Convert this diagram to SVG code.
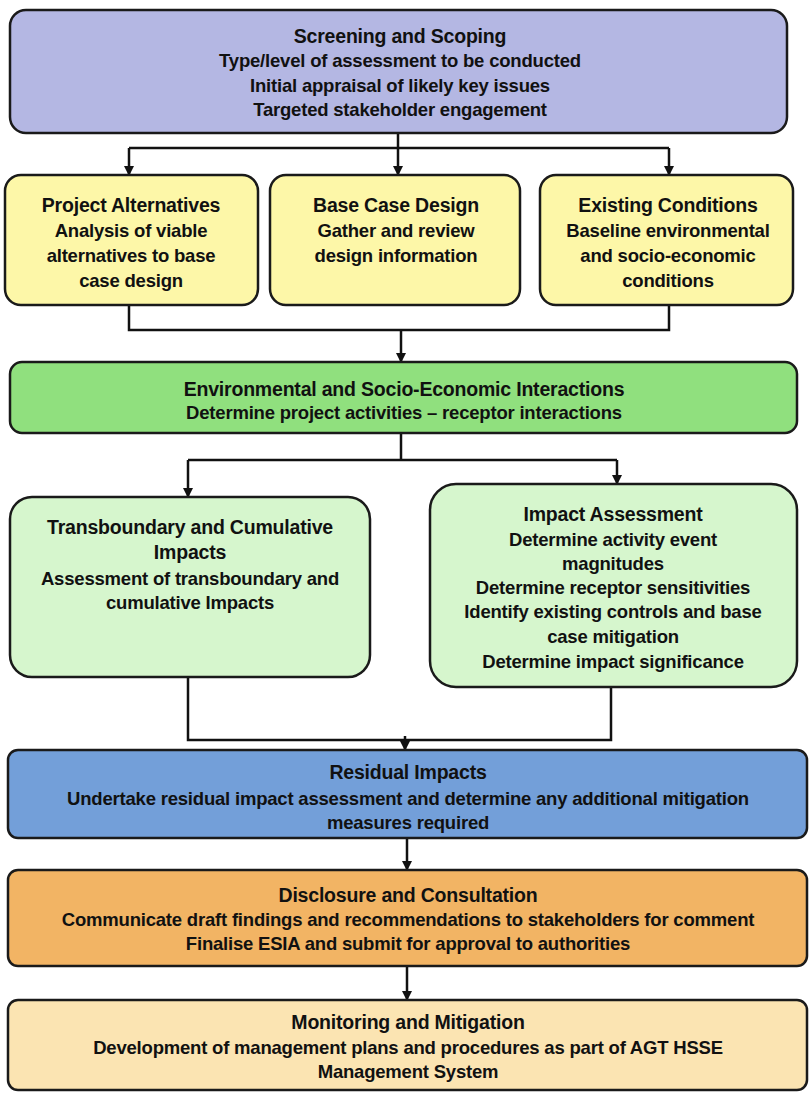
<svg xmlns="http://www.w3.org/2000/svg" width="809" height="1093" viewBox="0 0 809 1093">
<defs>
<marker id="arr" markerWidth="10" markerHeight="10" refX="9" refY="5" orient="auto" markerUnits="userSpaceOnUse">
<path d="M0,0 L10,5 L0,10 z" fill="#111"/>
</marker>
<style>
.box{stroke:#1a1a1a;stroke-width:2.5}
.t{font-family:"Liberation Sans",Arial,sans-serif;font-weight:bold;font-size:18.5px;fill:#111;text-anchor:middle;letter-spacing:-0.2px}
.h{font-size:19.5px}
.c{fill:none;stroke:#111;stroke-width:2.5}
</style>
</defs>
<rect width="809" height="1093" fill="#ffffff"/>
<g id="connectors">
<path class="c" d="M398,133 V148"/>
<path class="c" d="M129,148 H669"/>
<path class="c" d="M129,148 V175" marker-end="url(#arr)"/>
<path class="c" d="M398,148 V175" marker-end="url(#arr)"/>
<path class="c" d="M669,148 V175" marker-end="url(#arr)"/>
<path class="c" d="M129,305 V330 H669 V305"/>
<path class="c" d="M401,330 V362" marker-end="url(#arr)"/>
<path class="c" d="M401,433 V460"/>
<path class="c" d="M188,460 H617"/>
<path class="c" d="M188,460 V497" marker-end="url(#arr)"/>
<path class="c" d="M617,460 V484" marker-end="url(#arr)"/>
<path class="c" d="M188,677 V740 H611 V687"/>
<path class="c" d="M405,736 V750" marker-end="url(#arr)"/>
<path class="c" d="M407,838 V870" marker-end="url(#arr)"/>
<path class="c" d="M407,966 V1000" marker-end="url(#arr)"/>
</g>
<g id="screening">
<rect class="box" x="10" y="10" width="777" height="123" rx="16" fill="#b4b7e3"/>
<text class="t h" x="400" y="43">Screening and Scoping</text>
<text class="t" x="400" y="67">Type/level of assessment to be conducted</text>
<text class="t" x="400" y="92">Initial appraisal of likely key issues</text>
<text class="t" x="400" y="116">Targeted stakeholder engagement</text>
</g>
<g id="alternatives">
<rect class="box" x="5" y="175" width="253" height="130" rx="16" fill="#fdf7a8"/>
<text class="t h" x="131" y="212">Project Alternatives</text>
<text class="t" x="131" y="237">Analysis of viable</text>
<text class="t" x="131" y="262">alternatives to base</text>
<text class="t" x="131" y="287">case design</text>
</g>
<g id="basecase">
<rect class="box" x="270" y="175" width="250" height="130" rx="16" fill="#fdf7a8"/>
<text class="t h" x="396" y="212">Base Case Design</text>
<text class="t" x="396" y="237">Gather and review</text>
<text class="t" x="396" y="262">design information</text>
</g>
<g id="existing">
<rect class="box" x="540" y="175" width="253" height="130" rx="16" fill="#fdf7a8"/>
<text class="t h" x="668" y="212">Existing Conditions</text>
<text class="t" x="668" y="237">Baseline environmental</text>
<text class="t" x="668" y="262">and socio-economic</text>
<text class="t" x="668" y="287">conditions</text>
</g>
<g id="interactions">
<rect class="box" x="10" y="362" width="787" height="71" rx="12" fill="#90e07e"/>
<text class="t h" x="404" y="396">Environmental and Socio-Economic Interactions</text>
<text class="t" x="404" y="419">Determine project activities – receptor interactions</text>
</g>
<g id="transboundary">
<rect class="box" x="10" y="497" width="360" height="180" rx="22" fill="#d6f6cd"/>
<text class="t h" x="190" y="534">Transboundary and Cumulative</text>
<text class="t h" x="190" y="559">Impacts</text>
<text class="t" x="190" y="585">Assessment of transboundary and</text>
<text class="t" x="190" y="609">cumulative Impacts</text>
</g>
<g id="impact">
<rect class="box" x="430" y="484" width="367" height="203" rx="26" fill="#d6f6cd"/>
<text class="t h" x="613" y="521">Impact Assessment</text>
<text class="t" x="613" y="546">Determine activity event</text>
<text class="t" x="613" y="570">magnitudes</text>
<text class="t" x="613" y="594">Determine receptor sensitivities</text>
<text class="t" x="613" y="618">Identify existing controls and base</text>
<text class="t" x="613" y="643">case mitigation</text>
<text class="t" x="613" y="668">Determine impact significance</text>
</g>
<g id="residual">
<rect class="box" x="8" y="750" width="799" height="88" rx="10" fill="#739fd9"/>
<text class="t h" x="408" y="779">Residual Impacts</text>
<text class="t" x="408" y="805">Undertake residual impact assessment and determine any additional mitigation</text>
<text class="t" x="408" y="829">measures required</text>
</g>
<g id="disclosure">
<rect class="box" x="8" y="870" width="799" height="96" rx="10" fill="#f2b464"/>
<text class="t h" x="408" y="902">Disclosure and Consultation</text>
<text class="t" x="408" y="926">Communicate draft findings and recommendations to stakeholders for comment</text>
<text class="t" x="408" y="950">Finalise ESIA and submit for approval to authorities</text>
</g>
<g id="monitoring">
<rect class="box" x="8" y="1000" width="799" height="90" rx="10" fill="#fbe4b2"/>
<text class="t h" x="408" y="1029">Monitoring and Mitigation</text>
<text class="t" x="408" y="1054">Development of management plans and procedures as part of AGT HSSE</text>
<text class="t" x="408" y="1078">Management System</text>
</g>
</svg>
